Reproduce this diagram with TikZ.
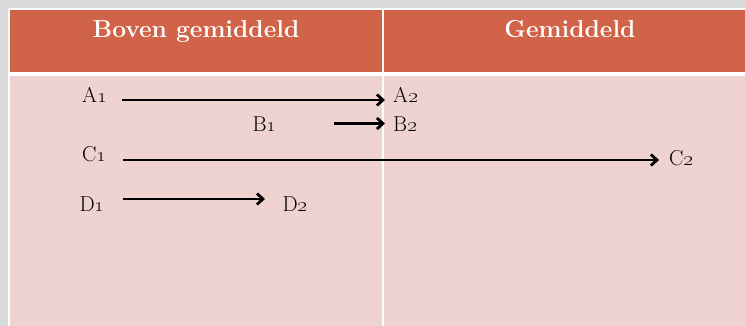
\documentclass[tikz,border=0pt]{standalone}
\usetikzlibrary{arrows.meta}
\definecolor{bggrey}{HTML}{D9D9D9}
\definecolor{headred}{HTML}{D16349}
\definecolor{bodypink}{HTML}{EFD3D0}
\tikzset{
  lbl/.style={inner sep=0pt, anchor=base west, font=\fontsize{21.5}{24}\selectfont, text=black},
  head/.style={inner sep=0pt, anchor=base, font=\fontsize{24.5}{28}\selectfont\bfseries, text=white},
  arr/.style={line width=2.8pt, -{Straight Barb[length=6pt,width=11pt]}},
}
\newcommand{\os}[1]{\oldstylenums{#1}}
\begin{document}
\begin{tikzpicture}[x=1pt,y=-1pt]
\useasboundingbox (0,0) rectangle (745,326);
\fill[bggrey] (0,0) rectangle (745,326);
\fill[white] (8,8) rectangle (745,326);
\fill[headred] (10,10) rectangle (745,72.5);
\fill[bodypink] (10,76.5) rectangle (745,326);
\fill[white] (382.3,10) rectangle (383.8,326);

\node[head] (h1) at (196,37.3) {Boven gemiddeld};
\node[head] (h2) at (570,37.3) {Gemiddeld};

\node[lbl] (A1) at (82,103) {A\os{1}};
\node[lbl] (A2) at (393,103) {A\os{2}};
\node[lbl] (B1) at (252.5,131.5) {B\os{1}};
\node[lbl] (B2) at (393,131.5) {B\os{2}};
\node[lbl] (C1) at (82,161.5) {C\os{1}};
\node[lbl] (C2) at (669,166) {C\os{2}};
\node[lbl] (D1) at (79.5,211.5) {D\os{1}};
\node[lbl] (D2) at (282.5,211.5) {D\os{2}};

\draw[arr] ([shift={(40,-3)}]A1.base west) -- ([shift={(-8,-3)}]A2.base west);
\draw[arr] ([shift={(81.5,-8)}]B1.base west) -- ([shift={(-8,-8)}]B2.base west);
\draw[arr] ([shift={(41,-1.5)}]C1.base west) -- ([shift={(-10,-6)}]C2.base west);
\draw[arr] ([shift={(43,-12.5)}]D1.base west) -- ([shift={(-17.5,-12.5)}]D2.base west);
\end{tikzpicture}
\end{document}
